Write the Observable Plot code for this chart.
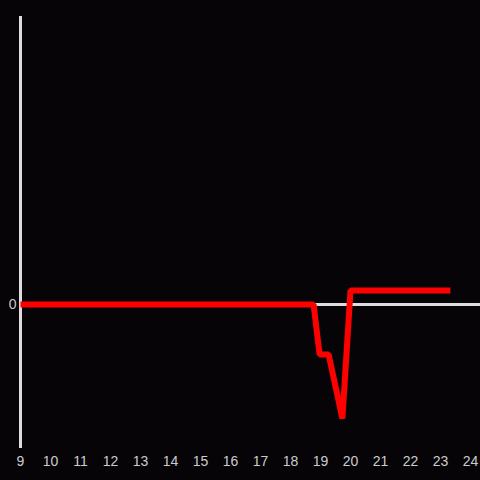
<!DOCTYPE html>
<html>
<head>
<meta charset="utf-8">
<script src="https://cdn.jsdelivr.net/npm/d3@7"></script>
<script src="https://cdn.jsdelivr.net/npm/@observablehq/plot@0.6"></script>
<style>
  html, body { margin: 0; padding: 0; background: #060407; }
  #chart { width: 480px; height: 480px; }
</style>
</head>
<body>
<div id="chart"></div>
<script>
const hours = [9, 18.77, 18.97, 19.27, 19.73, 20.0, 23.33];
const values = [0, 0, -0.347, -0.347, -0.792, 0.097, 0.097];
const xTicks = [9, 10, 11, 12, 13, 14, 15, 16, 17, 18, 19, 20, 21, 22, 23, 24];
const yTicks = [0];

const data = hours.map((h, i) => ({hour: h, value: values[i]}));

const chart = Plot.plot({
  width: 480,
  height: 480,
  marginLeft: 20,
  marginRight: 0,
  marginTop: 16,
  marginBottom: 32,
  style: {background: "#060407", color: "#cccccc", fontSize: "14px", fontFamily: "Liberation Sans, Arial, sans-serif"},
  x: {domain: [9, 73 / 3], label: null},
  y: {domain: [-1, 2], label: null},
  marks: [
    Plot.axisX(xTicks, {tickSize: 0, tickPadding: 8, tickFormat: d => String(d), fontSize: 14, fill: "#cccccc", label: null}),
    Plot.axisY(yTicks, {tickSize: 0, tickPadding: 4, tickFormat: d => String(d), fontSize: 14, fill: "#cccccc", label: null}),
    Plot.ruleY([0], {stroke: "#dddddd", strokeWidth: 3}),
    Plot.ruleX([9], {stroke: "#dddddd", strokeWidth: 3}),
    Plot.line(data, {x: "hour", y: "value", stroke: "#ff0000", strokeWidth: 6, strokeLinejoin: "miter", strokeLinecap: "butt"})
  ]
});
document.getElementById("chart").appendChild(chart);
</script>
</body>
</html>
